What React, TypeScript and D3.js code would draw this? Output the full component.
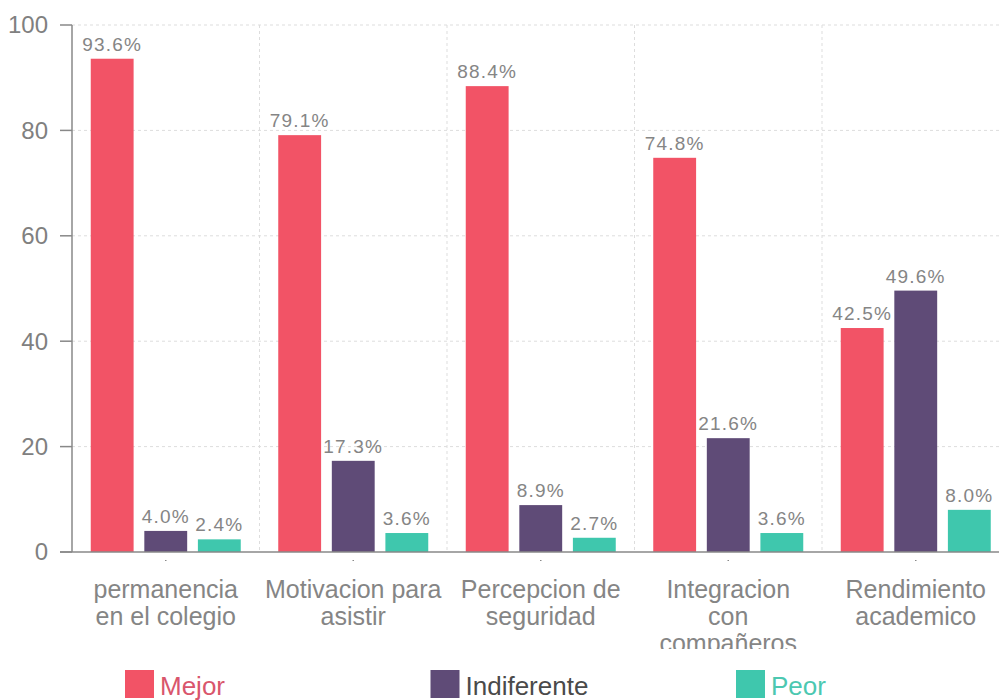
import React from "react";
import * as d3 from "d3";

const categories = [
  ["permanencia", "en el colegio"],
  ["Motivacion para", "asistir"],
  ["Percepcion de", "seguridad"],
  ["Integracion", "con", "compañeros"],
  ["Rendimiento", "academico"],
];
const seriesNames = ["Mejor", "Indiferente", "Peor"];
const mejor = [93.6, 79.1, 88.4, 74.8, 42.5];
const indiferente = [4.0, 17.3, 8.9, 21.6, 49.6];
const peor = [2.4, 3.6, 2.7, 3.6, 8.0];
const yTicks = [0, 20, 40, 60, 80, 100];

const colors = ["#f25366", "#5f4b77", "#3fc7ad"];
const legendTextColors = ["#d9566c", "#4a4a4a", "#4cc8b1"];

export default function App() {
  const W = 999, H = 700;
  const left = 72, right = 1009.5, top = 25, bottom = 552;
  const seriesValues = [mejor, indiferente, peor];
  const catIdx = categories.map((_, i) => String(i));
  const x0 = d3.scaleBand<string>().domain(catIdx).range([left, right]).padding(0);
  const bw = x0.bandwidth();
  const x1 = d3.scaleBand<string>().domain(seriesNames).range([bw * 0.1, bw * 0.9]).paddingInner(0.2);
  const y = d3.scaleLinear().domain([0, 100]).range([bottom, top]);
  const font = "'Liberation Sans', Arial, sans-serif";

  return (
    <svg width={W} height={H} style={{ position: "absolute", left: 0, top: 0, background: "#fff" }} fontFamily={font}>
      <defs>
        <clipPath id="xlab">
          <rect x={0} y={560} width={W} height={89} />
        </clipPath>
      </defs>
      {/* horizontal grid */}
      {yTicks.filter(t => t > 0).map(t => (
        <line key={"h" + t} x1={left} x2={W} y1={y(t)} y2={y(t)} stroke="#ddd" strokeDasharray="3,3" />
      ))}
      {/* vertical grid */}
      {catIdx.slice(1).map(c => (
        <line key={"v" + c} x1={x0(c)!} x2={x0(c)!} y1={top} y2={bottom} stroke="#ddd" strokeDasharray="3,3" />
      ))}
      {/* bars */}
      {catIdx.map((c, ci) => (
        <g key={"g" + c} transform={`translate(${x0(c)},0)`}>
          {seriesNames.map((s, si) => {
            const v = seriesValues[si][ci];
            const bx = x1(s)!;
            return (
              <g key={s}>
                <rect x={bx} y={y(v)} width={x1.bandwidth()} height={y(0) - y(v)} fill={colors[si]} />
                <text x={bx + x1.bandwidth() / 2} y={y(v) - 8} textAnchor="middle" fontSize={19} letterSpacing={1.2} fill="#858585">
                  {v.toFixed(1)}%
                </text>
              </g>
            );
          })}
        </g>
      ))}
      {/* y axis */}
      <line x1={left} x2={left} y1={top} y2={bottom} stroke="#888" strokeWidth={1.5} />
      {yTicks.map(t => (
        <g key={"yt" + t}>
          <line x1={left - 12} x2={left} y1={y(t)} y2={y(t)} stroke="#888" strokeWidth={1.5} />
          <text x={48} y={y(t)} dy="0.35em" textAnchor="end" fontSize={24} fill="#808080">{t}</text>
        </g>
      ))}
      {/* x axis */}
      <line x1={left - 12} x2={W} y1={bottom} y2={bottom} stroke="#888" strokeWidth={1.5} />
      <g clipPath="url(#xlab)">
        {catIdx.map((c, ci) => {
          const cx = x0(c)! + bw / 2;
          return (
            <g key={"xl" + c}>
              <line x1={cx} x2={cx} y1={bottom} y2={bottom + 9} stroke="#888" strokeWidth={1.5} />
              {categories[ci].map((line, li) => (
                <text key={li} x={cx} y={598 + li * 27} textAnchor="middle" fontSize={25} fill="#858585">{line}</text>
              ))}
            </g>
          );
        })}
      </g>
      {/* legend */}
      {seriesNames.map((s, si) => {
        const lx = 125 + si * 305.5;
        return (
          <g key={"lg" + s}>
            <rect x={lx} y={670} width={29} height={28} fill={colors[si]} />
            <text x={lx + 35} y={695} fontSize={26} fill={legendTextColors[si]}>{s}</text>
          </g>
        );
      })}
    </svg>
  );
}
